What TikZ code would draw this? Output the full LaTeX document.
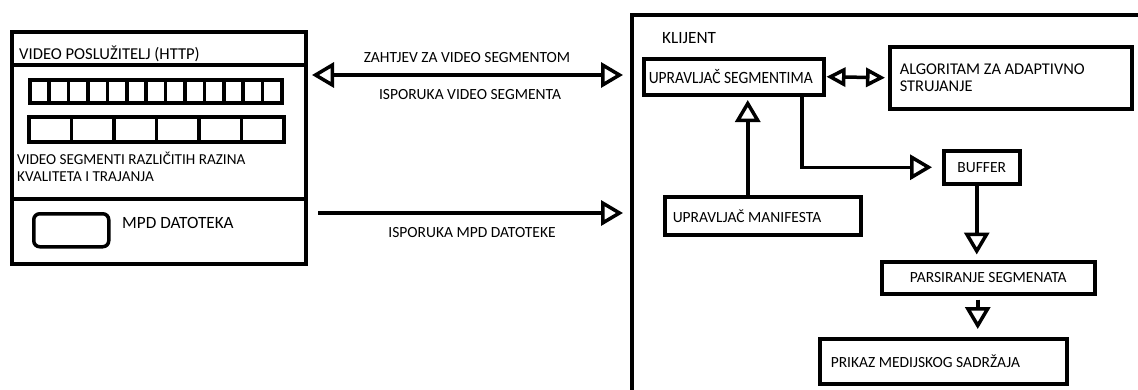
\documentclass[tikz,border=0pt]{standalone}
\usepackage{fontspec}
\setmainfont{Carlito}
\newfontfamily\segfont[FakeStretch=0.9]{Carlito}
\usetikzlibrary{arrows.meta}
\newcommand{\fbig}{\fontsize{17.2}{19}\selectfont}
\newcommand{\fmid}{\fontsize{15.5}{17}\selectfont}
\begin{document}
\begin{tikzpicture}[x=1pt,y=-1pt,
  bx/.style={draw, line width=3.5pt, inner sep=0pt, anchor=north west, font=\fmid},
  cell/.style={draw, line width=3.5pt, inner sep=0pt, anchor=north west},
  lbl/.style={inner sep=0pt, font=\fmid},
  conn/.style={line width=3.5pt},
  tip/.style={-{Triangle[open,length=22pt,width=25pt,line width=3.5pt]}},
  dtip/.style={{Triangle[open,length=22pt,width=25pt,line width=3.5pt]}-{Triangle[open,length=22pt,width=25pt,line width=3.5pt]}},
  stip/.style={{Triangle[open,length=19pt,width=19pt,line width=3.5pt]}-{Triangle[open,length=19pt,width=19pt,line width=3.5pt]}}
]
\useasboundingbox (0,0) rectangle (1138,389);
% server
\node[bx, minimum width=294pt, minimum height=33pt] (hdr) at (10,30) {};
\node[bx, minimum width=294pt, minimum height=134pt] (segs) at (10,63) {};
\node[bx, minimum width=294pt, minimum height=65pt] (mpdsec) at (10,197) {};
\node[lbl, anchor=west, font=\fontsize{16.6}{19}\selectfont] (hdrt) at (19,54) {VIDEO POSLUŽITELJ (HTTP)};
\foreach \i in {0,...,12}
  \node[cell, minimum width=19.4pt, minimum height=23pt] (ta\i) at ({28+\i*19.4},78) {};
\foreach \i in {0,...,5}
  \node[cell, minimum width=42.5pt, minimum height=25pt] (tb\i) at ({27+\i*42.5},115) {};
\node[lbl, anchor=north west, align=left, font=\fontsize{15.2}{17}\selectfont] (segt) at (17,152) {\spaceskip=0pt VIDEO SEGMENTI RAZLIČITIH RAZINA\\KVALITETA I TRAJANJA};
\node[draw, line width=3.5pt, rounded corners=6pt, anchor=north west, minimum width=75pt, minimum height=33pt] (mpdicon) at (32,212) {};
\node[lbl, anchor=west, font=\fbig] (mpdt) at (122,223) {MPD DATOTEKA};
% messages
\coordinate (rqL) at (312,75);
\coordinate (rqR) at (623,75);
\draw[conn, dtip] (rqL) -- (rqR);
\node[lbl] (rqt) at (467,58) {ZAHTJEV ZA VIDEO SEGMENTOM};
\node[lbl] (rst) at (470,95) {ISPORUKA VIDEO SEGMENTA};
\coordinate (mpL) at (318,213);
\coordinate (mpR) at (623,213);
\draw[conn, tip] (mpL) -- (mpR);
\node[lbl] (mpdm) at (472,233) {ISPORUKA MPD DATOTEKE};
% client
\draw[line width=3.5pt] (1140,15) -- (632,15) -- (632,392);
\node[lbl, anchor=west, font=\fbig] (klijent) at (662,38) {KLIJENT};
\node[bx, font=\segfont\fbig, minimum width=180pt, minimum height=36pt, inner xsep=5pt] (seg) at (642,57) {\makebox[170pt][l]{UPRAVLJAČ SEGMENTIMA}};
\node[bx, font=\fontsize{16.4}{17.5}\selectfont, minimum width=242pt, minimum height=62pt, text width=222pt, inner xsep=10pt, align=left] (alg) at (888,45) {\spaceskip=0pt ALGORITAM ZA ADAPTIVNO\\STRUJANJE};
\node[bx, minimum width=76pt, minimum height=33pt] (buf) at (942,149) {BUFFER};
\node[bx, minimum width=196pt, minimum height=38pt, inner xsep=8pt] (man) at (663,195) {\makebox[180pt][l]{UPRAVLJAČ MANIFESTA}};
\node[bx, minimum width=213pt, minimum height=32pt] (pars) at (880,260) {PARSIRANJE SEGMENATA};
\node[bx, minimum width=247pt, minimum height=45pt, inner xsep=11pt] (prik) at (818,337) {\makebox[225pt][l]{PRIKAZ MEDIJSKOG SADRŽAJA}};
% connectors
\draw[conn, stip, shorten <=1pt, shorten >=3pt] (seg.east) -- (alg.west);
\draw[conn, tip, shorten >=10pt] ([xshift=68pt]seg.south) |- (buf.west);
\draw[conn, tip, shorten >=3.5pt] ([xshift=-15pt]man.north) -- ([xshift=-15pt]man.north |- seg.south);
\draw[conn, tip, shorten >=5.5pt] ([xshift=-5pt]buf.south) -- ([xshift=-5pt]buf.south |- pars.north);
\draw[conn, tip, shorten <=4pt, shorten >=8pt] ([xshift=-10.5pt]pars.south) -- ([xshift=-10.5pt]pars.south |- prik.north);
\end{tikzpicture}
\end{document}
